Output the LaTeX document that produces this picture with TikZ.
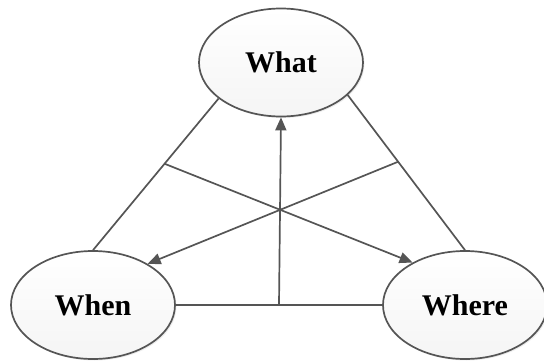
\documentclass[tikz,border=0pt]{standalone}
\usepackage{fontspec}
\setmainfont{Liberation Serif}
\usetikzlibrary{calc,shadows,arrows.meta,shapes.geometric}
\definecolor{linegray}{HTML}{555555}
\tikzstyle{qnode}=[ellipse,draw=linegray,line width=1.7pt,minimum width=164pt,minimum height=108pt,inner sep=0pt,top color=white,bottom color=gray!8,drop shadow={opacity=0.15,shadow xshift=1.5pt,shadow yshift=-1.5pt},font=\bfseries\fontsize{30}{36}\selectfont]
\tikzstyle{link}=[draw=linegray,line width=1.7pt]
\tikzstyle{arr}=[link,-{Triangle[length=13pt,width=11pt]}]

\begin{document}
\begin{tikzpicture}[x=1pt,y=1pt]
    \useasboundingbox (0,0) rectangle (544,360);
    \node[qnode] (what)  at (281,297.5) {What};
    \node[qnode] (when)  at (93,55)     {When};
    \node[qnode] (where) at (465,55)    {Where};

    \foreach \from/\to in {what.210/when.north,what.334/where.north,when.east/where.west}
    \draw[link] (\from) -- (\to);

    \coordinate (l) at ($(what.210)!0.43!(when.north)$);
    \coordinate (r) at ($(what.334)!0.43!(where.north)$);
    \coordinate (b) at ($(when.east)!0.5!(where.west)$);

    \draw[arr] (l) -- (where.141);
    \draw[arr] (r) -- (when.37);
    \draw[arr] (b) -- (what.south);
\end{tikzpicture}
\end{document}
